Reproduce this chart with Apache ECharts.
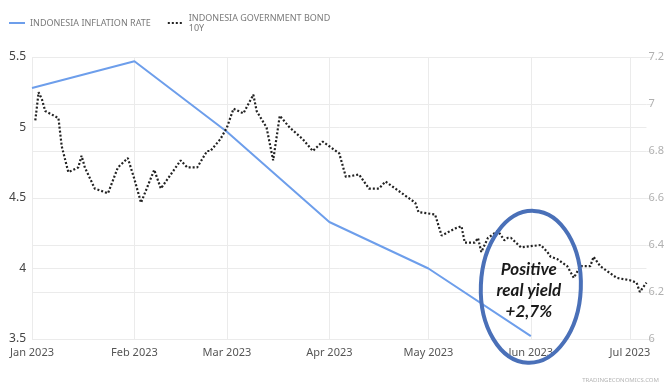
<!DOCTYPE html>
<html>
<head>
<meta charset="utf-8">
<script src="https://cdn.jsdelivr.net/npm/echarts@6/dist/echarts.min.js"></script>
<style>
    html, body { margin: 0; padding: 0; background: #fff; }
    #chart { width: 667px; height: 386px; }
</style>
</head>
<body>
<div id="chart"></div>
<script>
/* ===== 数据 ===== */
const monthTicks = ["2023-01-01", "2023-02-01", "2023-03-01", "2023-04-01", "2023-05-01", "2023-06-01", "2023-07-01"];

const inflationDates = ["2023-01-01", "2023-02-01", "2023-03-01", "2023-04-01", "2023-05-01", "2023-06-01"];
const inflationValues = [5.28, 5.47, 4.97, 4.33, 4.00, 3.52];

const bondDates = [
    "2023-01-02", "2023-01-03", "2023-01-04", "2023-01-05", "2023-01-09", "2023-01-10", "2023-01-12",
    "2023-01-15", "2023-01-16", "2023-01-17", "2023-01-20", "2023-01-24", "2023-01-27", "2023-01-30",
    "2023-02-01", "2023-02-03", "2023-02-07", "2023-02-09", "2023-02-13", "2023-02-15", "2023-02-17",
    "2023-02-20", "2023-02-23", "2023-02-24", "2023-02-27", "2023-03-01", "2023-03-03", "2023-03-06",
    "2023-03-09", "2023-03-10", "2023-03-13", "2023-03-15", "2023-03-17", "2023-03-20", "2023-03-24",
    "2023-03-27", "2023-03-30", "2023-04-04", "2023-04-06", "2023-04-10", "2023-04-13", "2023-04-16",
    "2023-04-18", "2023-04-23", "2023-04-27", "2023-04-28", "2023-05-03", "2023-05-05", "2023-05-09",
    "2023-05-11", "2023-05-12", "2023-05-15", "2023-05-16", "2023-05-17", "2023-05-19", "2023-05-22",
    "2023-05-24", "2023-05-25", "2023-05-26", "2023-05-29", "2023-06-04", "2023-06-06", "2023-06-07",
    "2023-06-09", "2023-06-12", "2023-06-14", "2023-06-16", "2023-06-19", "2023-06-20", "2023-06-22",
    "2023-06-27", "2023-07-01", "2023-07-03", "2023-07-04", "2023-07-06"
];
const bondValues = [
    6.93, 7.05, 7.02, 6.97, 6.94, 6.82, 6.71,
    6.73, 6.78, 6.73, 6.64, 6.62, 6.73, 6.77,
    6.68, 6.58, 6.72, 6.64, 6.72, 6.76, 6.73,
    6.73, 6.80, 6.80, 6.85, 6.90, 6.98, 6.96,
    7.04, 6.97, 6.90, 6.76, 6.95, 6.90, 6.85,
    6.80, 6.84, 6.79, 6.69, 6.70, 6.64, 6.64,
    6.67, 6.62, 6.58, 6.54, 6.53, 6.44, 6.47,
    6.48, 6.41, 6.41, 6.43, 6.37, 6.43, 6.46,
    6.42, 6.43, 6.43, 6.39, 6.40, 6.37, 6.35,
    6.34, 6.31, 6.26, 6.31, 6.31, 6.35, 6.31,
    6.26, 6.25, 6.24, 6.20, 6.24
];

const leftTicks = { min: 3.5, max: 5.5, interval: 0.5 };
const rightTicks = { min: 6, max: 7.2, interval: 0.2 };

const noteText = "Positive\nreal yield\n+2,7%";

/* ===== 图表 ===== */
const chart = echarts.init(document.getElementById("chart"));
const gridColor = "#ebebeb";
const font = "'Noto Sans', sans-serif";

chart.setOption({
    animation: false,
    textStyle: { fontFamily: font },
    legend: {
        left: 3,
        top: 8,
        itemWidth: 16,
        itemHeight: 8,
        itemGap: 16,
        itemStyle: { opacity: 0 },
        textStyle: { fontSize: 9, color: "#7a7a7a", lineHeight: 10 },
        data: ["INDONESIA INFLATION RATE", "INDONESIA GOVERNMENT BOND\n10Y"],
    },
    grid: { left: 32, right: 20, top: 57, bottom: 47 },
    xAxis: {
        type: "time",
        min: "2023-01-01",
        max: "2023-07-06",
        axisLine: { show: false },
        axisTick: { show: false, customValues: monthTicks.map(d => +new Date(d + "T00:00:00")) },
        splitLine: { show: true, lineStyle: { color: gridColor } },
        axisLabel: {
            customValues: monthTicks.map(d => +new Date(d + "T00:00:00")),
            formatter: "{MMM} {yyyy}",
            color: "#555",
            fontSize: 11,
            margin: 8,
            hideOverlap: false,
        },
    },
    yAxis: [
        {
            type: "value",
            position: "left",
            min: leftTicks.min,
            max: leftTicks.max,
            interval: leftTicks.interval,
            axisLine: { show: false },
            axisTick: { show: false },
            splitLine: { lineStyle: { color: gridColor } },
            axisLabel: { color: "#444", fontSize: 12, margin: 6 },
        },
        {
            type: "value",
            position: "right",
            min: rightTicks.min,
            max: rightTicks.max,
            interval: rightTicks.interval,
            axisLine: { show: false },
            axisTick: { show: true, length: 6, lineStyle: { color: gridColor } },
            splitLine: { lineStyle: { color: gridColor } },
            axisLabel: { color: "#b0b0b0", fontSize: 11, margin: 2 },
        },
    ],
    series: [
        {
            name: "INDONESIA INFLATION RATE",
            type: "line",
            yAxisIndex: 0,
            symbol: "none",
            lineStyle: { color: "#6d9eeb", width: 2 },
            itemStyle: { color: "#6d9eeb" },
            data: inflationDates.map((d, i) => [d, inflationValues[i]]),
            z: 3,
        },
        {
            name: "INDONESIA GOVERNMENT BOND\n10Y",
            type: "line",
            yAxisIndex: 1,
            symbol: "none",
            lineStyle: { color: "#222", width: 2.2, type: [2, 2] },
            itemStyle: { color: "#222" },
            data: bondDates.map((d, i) => [d, bondValues[i]]),
            z: 4,
        },
    ],
});

/* ===== 注释：椭圆 + 文字 ===== */
const center = chart.convertToPixel({ xAxisIndex: 0, yAxisIndex: 0 }, ["2023-06-01", 3.87]);
chart.setOption({
    graphic: [
        {
            type: "ellipse",
            shape: { cx: center[0], cy: center[1], rx: 50, ry: 76 },
            rotation: -0.04,
            originX: center[0],
            originY: center[1],
            style: { fill: "none", stroke: "#4a70b8", lineWidth: 4 },
            z: 10,
        },
        {
            type: "text",
            x: center[0] - 2,
            y: center[1] + 4,
            style: {
                text: noteText,
                fill: "#1a1a1a",
                font: "italic bold 17px Lato, 'Open Sans', sans-serif",
                align: "center",
                verticalAlign: "middle",
                lineHeight: 21,
            },
            z: 11,
        },
        {
            type: "text",
            right: 8,
            bottom: 3,
            style: {
                text: "TRADINGECONOMICS.COM",
                fill: "#b5b5b5",
                font: "6px 'Noto Sans', sans-serif",
            },
        },
    ],
});
</script>
</body>
</html>
